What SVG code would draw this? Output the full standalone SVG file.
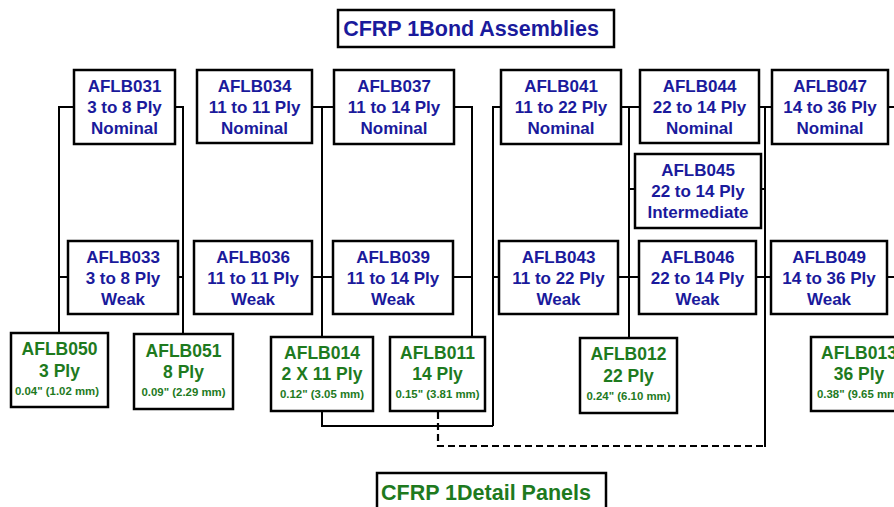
<svg xmlns="http://www.w3.org/2000/svg" width="894" height="507" viewBox="0 0 894 507">
<style>
.box{fill:#fff;stroke:#000;stroke-width:2.5}
.t{font-family:"Liberation Sans",Arial,sans-serif;font-weight:bold;text-anchor:middle}
.b{fill:#1a1a9c;font-size:17px}
.g{fill:#1e7a1e;font-size:17.5px}
.s{fill:#1e7a1e;font-size:11.4px}
.title{font-family:"Liberation Sans",Arial,sans-serif;font-weight:bold;font-size:21.5px}
.c{fill:none;stroke:#000;stroke-width:2}
.d{fill:none;stroke:#000;stroke-width:2.2;stroke-dasharray:7 4}
</style>
<rect width="894" height="507" fill="#fff"/>
<g id="connectors">
<path class="c" d="M74,107 H59 V333 M68,277 H59"/>
<path class="c" d="M175,107 H183 V334 M178,277 H183"/>
<path class="c" d="M312,107 H334 M322,107 V337 M312,277 H333"/>
<path class="c" d="M322,411 V426 H493"/>
<path class="c" d="M454,107 H472 V337 M453,277 H472"/>
<path class="c" d="M501,107 H493 V426 M493,277 H499"/>
<path class="c" d="M621,107 H640 M629,107 V338 M629,189 H635 M618,277 H639"/>
<path class="c" d="M759,107 H772 M765,107 V447 M761,189 H765 M756,277 H771"/>
<path class="c" d="M888,107 H894 M887,277 H894"/>
<path class="d" d="M438,412 V446 H765"/>
</g>
<g id="title-top">
<rect class="box" x="338" y="10" width="276" height="37"/>
<text class="title" x="471" y="36" fill="#1a1a9c" text-anchor="middle">CFRP 1Bond Assemblies</text>
</g>
<g id="AFLB031"><rect class="box" x="74" y="70" width="101" height="74"/><text class="t b" x="124.5" y="92">AFLB031</text><text class="t b" x="124.5" y="113">3 to 8 Ply</text><text class="t b" x="124.5" y="134">Nominal</text></g>
<g id="AFLB034"><rect class="box" x="197" y="70" width="115" height="73"/><text class="t b" x="254.5" y="92">AFLB034</text><text class="t b" x="254.5" y="113">11 to 11 Ply</text><text class="t b" x="254.5" y="134">Nominal</text></g>
<g id="AFLB037"><rect class="box" x="334" y="70" width="120" height="74"/><text class="t b" x="394" y="92">AFLB037</text><text class="t b" x="394" y="113">11 to 14 Ply</text><text class="t b" x="394" y="134">Nominal</text></g>
<g id="AFLB041"><rect class="box" x="501" y="70" width="120" height="74"/><text class="t b" x="561" y="92">AFLB041</text><text class="t b" x="561" y="113">11 to 22 Ply</text><text class="t b" x="561" y="134">Nominal</text></g>
<g id="AFLB044"><rect class="box" x="640" y="70" width="119" height="73"/><text class="t b" x="699.5" y="92">AFLB044</text><text class="t b" x="699.5" y="113">22 to 14 Ply</text><text class="t b" x="699.5" y="134">Nominal</text></g>
<g id="AFLB047"><rect class="box" x="772" y="70" width="116" height="74"/><text class="t b" x="830" y="92">AFLB047</text><text class="t b" x="830" y="113">14 to 36 Ply</text><text class="t b" x="830" y="134">Nominal</text></g>
<g id="AFLB045"><rect class="box" x="635" y="154" width="126" height="74"/><text class="t b" x="698" y="176">AFLB045</text><text class="t b" x="698" y="197">22 to 14 Ply</text><text class="t b" x="698" y="218">Intermediate</text></g>
<g id="AFLB033"><rect class="box" x="68" y="241" width="110" height="73"/><text class="t b" x="123" y="263">AFLB033</text><text class="t b" x="123" y="284">3 to 8 Ply</text><text class="t b" x="123" y="305">Weak</text></g>
<g id="AFLB036"><rect class="box" x="194" y="241" width="118" height="73"/><text class="t b" x="253" y="263">AFLB036</text><text class="t b" x="253" y="284">11 to 11 Ply</text><text class="t b" x="253" y="305">Weak</text></g>
<g id="AFLB039"><rect class="box" x="333" y="241" width="120" height="73"/><text class="t b" x="393" y="263">AFLB039</text><text class="t b" x="393" y="284">11 to 14 Ply</text><text class="t b" x="393" y="305">Weak</text></g>
<g id="AFLB043"><rect class="box" x="499" y="241" width="119" height="73"/><text class="t b" x="558.5" y="263">AFLB043</text><text class="t b" x="558.5" y="284">11 to 22 Ply</text><text class="t b" x="558.5" y="305">Weak</text></g>
<g id="AFLB046"><rect class="box" x="639" y="241" width="117" height="73"/><text class="t b" x="697.5" y="263">AFLB046</text><text class="t b" x="697.5" y="284">22 to 14 Ply</text><text class="t b" x="697.5" y="305">Weak</text></g>
<g id="AFLB049"><rect class="box" x="771" y="241" width="116" height="73"/><text class="t b" x="829" y="263">AFLB049</text><text class="t b" x="829" y="284">14 to 36 Ply</text><text class="t b" x="829" y="305">Weak</text></g>
<g id="AFLB050"><rect class="box" x="11" y="333" width="97" height="74"/><text class="t g" x="59.5" y="355">AFLB050</text><text class="t g" x="59.5" y="377">3 Ply</text><text class="t s" x="57" y="395">0.04" (1.02 mm)</text></g>
<g id="AFLB051"><rect class="box" x="134" y="334" width="99" height="75"/><text class="t g" x="183.5" y="357">AFLB051</text><text class="t g" x="183.5" y="378">8 Ply</text><text class="t s" x="183.5" y="396">0.09" (2.29 mm)</text></g>
<g id="AFLB014"><rect class="box" x="271" y="337" width="102" height="74"/><text class="t g" x="322" y="359">AFLB014</text><text class="t g" x="322" y="380">2 X 11 Ply</text><text class="t s" x="322" y="398">0.12" (3.05 mm)</text></g>
<g id="AFLB011"><rect class="box" x="390" y="337" width="95" height="74"/><text class="t g" x="437.5" y="359">AFLB011</text><text class="t g" x="437.5" y="380">14 Ply</text><text class="t s" x="437.5" y="398">0.15" (3.81 mm)</text></g>
<g id="AFLB012"><rect class="box" x="580" y="338" width="97" height="75"/><text class="t g" x="628.5" y="360">AFLB012</text><text class="t g" x="628.5" y="382">22 Ply</text><text class="t s" x="628.5" y="400">0.24" (6.10 mm)</text></g>
<g id="AFLB013"><rect class="box" x="811" y="337" width="97" height="74"/><text class="t g" x="859" y="359">AFLB013</text><text class="t g" x="859" y="380">36 Ply</text><text class="t s" x="859" y="398">0.38" (9.65 mm)</text></g>
<g id="title-bottom">
<rect class="box" x="377" y="473" width="229" height="45"/>
<text class="title" x="381" y="500" fill="#1e7a1e">CFRP 1Detail Panels</text>
</g>
</svg>
